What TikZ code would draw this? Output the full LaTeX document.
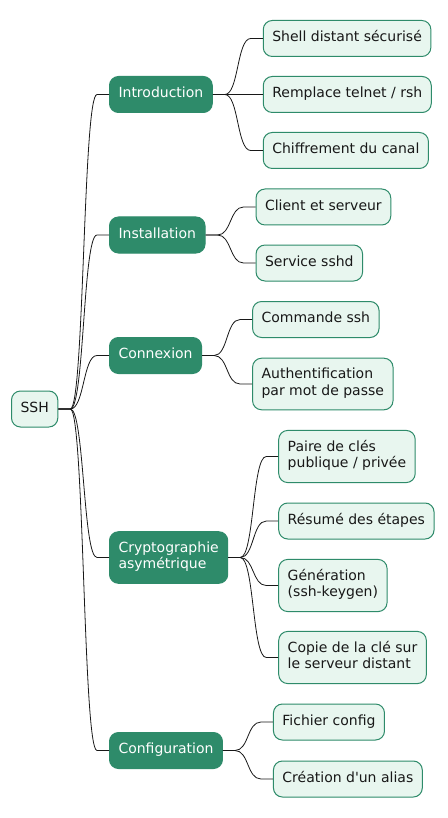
\documentclass[tikz,border=0pt]{standalone}
\usepackage{fontspec}
\setmainfont{DejaVu Sans}[Ligatures=TeXOff]
\usetikzlibrary{positioning}
\definecolor{mapgreen}{RGB}{46,139,106}
\definecolor{mapmint}{RGB}{232,246,239}
\definecolor{mapink}{RGB}{24,24,24}
\tikzset{box/.style={
    rounded corners=9pt,
    draw=mapgreen, line width=1pt,
    font=\fontsize{14}{16.5}\selectfont,
    align=left,
    inner xsep=9pt, inner ysep=9.75pt,
    execute at begin node=\strut,
    execute at end node=\strut
  },
  root/.style={box, fill=mapmint, text=mapink, anchor=west},
  topic/.style={box, fill=mapgreen, text=white, anchor=west},
  leaf/.style={box, fill=mapmint, text=mapink},
  link/.style={draw=mapink, line width=0.8pt,
    to path={-- ++(12pt,0) .. controls +(14pt,0) and +(-14pt,0) .. ([xshift=-12pt]\tikztotarget) -- (\tikztotarget)}}
}

\begin{document}
\begin{tikzpicture}[x=1pt,y=-1pt]
  \useasboundingbox[fill=white] (0,0) rectangle (447,818);

  \node[root] (SSH) at (11,409) {SSH};

  \node[topic] (Intro) at (109,94.5) {Introduction};
  \node[topic] (Install) at (109,235) {Installation};
  \node[topic] (Conn) at (109,355.5) {Connexion};
  \node[topic] (Crypto) at (109,557.5) {Cryptographie\\asymétrique};
  \node[topic] (Config) at (109,750.5) {Configuration};

  \node[leaf] (Shell) [right=50pt of Intro, yshift=56pt] {Shell distant sécurisé};
  \node[leaf] (Telnet) [right=50pt of Intro] {Remplace telnet / rsh};
  \node[leaf] (Canal) [right=50pt of Intro, yshift=-56pt] {Chiffrement du canal};

  \node[leaf] (Client) [right=50pt of Install, yshift=28pt] {Client et serveur};
  \node[leaf] (Sshd) [right=50pt of Install, yshift=-28pt] {Service sshd};

  \node[leaf] (Cmd) [right=50pt of Conn, yshift=36pt] {Commande ssh};
  \node[leaf] (Auth) [right=50pt of Conn, yshift=-28.5pt] {Authentification\\par mot de passe};

  \node[leaf] (Paire) [right=50pt of Crypto, yshift=101pt] {Paire de clés\\publique / privée};
  \node[leaf] (Resume) [right=50pt of Crypto, yshift=36.5pt] {Résumé des étapes};
  \node[leaf] (Keygen) [right=50pt of Crypto, yshift=-28pt] {Génération\\(ssh-keygen)};
  \node[leaf] (Copie) [right=50pt of Crypto, yshift=-100pt] {Copie de la clé sur\\le serveur distant};

  \node[leaf] (Fichier) [right=50pt of Config, yshift=28.5pt] {Fichier config};
  \node[leaf] (Alias) [right=50pt of Config, yshift=-28.5pt] {Création d'un alias};

  \foreach \a/\b in {SSH/Intro,SSH/Install,SSH/Conn,SSH/Crypto,SSH/Config,
      Intro/Shell,Intro/Telnet,Intro/Canal,Install/Client,Install/Sshd,
      Conn/Cmd,Conn/Auth,Crypto/Paire,Crypto/Resume,Crypto/Keygen,Crypto/Copie,
      Config/Fichier,Config/Alias}
    \draw[link] (\a.east) to (\b.west);
\end{tikzpicture}
\end{document}
